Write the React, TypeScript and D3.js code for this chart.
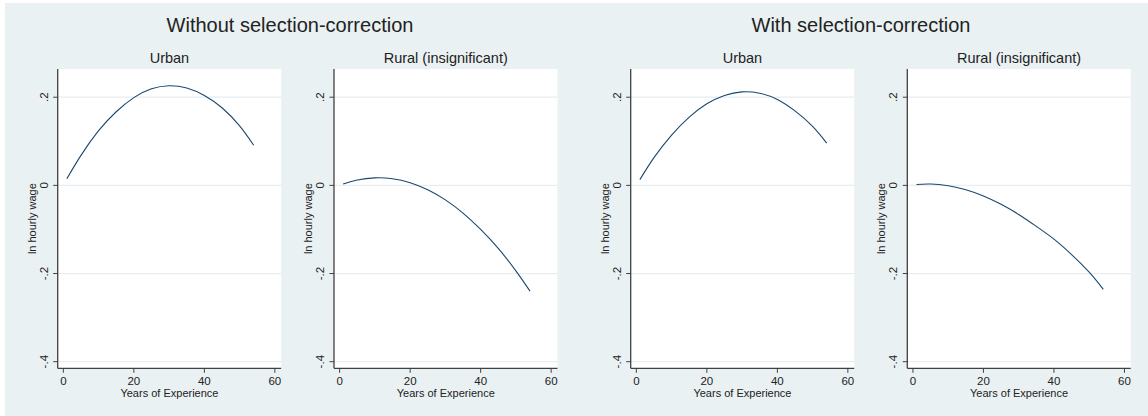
import React from "react";
import * as d3 from "d3";

const experience = [1, 5, 10, 15, 20, 25, 30, 35, 40, 45, 50, 54];
const urbanWithout = [0.015, 0.068, 0.124, 0.167, 0.199, 0.219, 0.226, 0.221, 0.204, 0.176, 0.135, 0.091];
const ruralWithout = [0.003, 0.012, 0.017, 0.015, 0.006, -0.01, -0.033, -0.063, -0.1, -0.143, -0.194, -0.24];
const urbanWith = [0.013, 0.063, 0.114, 0.155, 0.185, 0.204, 0.212, 0.209, 0.195, 0.169, 0.134, 0.096];
const ruralWith = [0.002, 0.003, -0.001, -0.01, -0.024, -0.043, -0.066, -0.093, -0.122, -0.157, -0.197, -0.236];

const yTicks = [0.2, 0, -0.2, -0.4];
const xTicks = [0, 20, 40, 60];
const groupTitles = ["Without selection-correction", "With selection-correction"];
const panelTitles = ["Urban", "Rural (insignificant)", "Urban", "Rural (insignificant)"];
const panelSeries = [urbanWithout, ruralWithout, urbanWith, ruralWith];
const yLabel = "ln hourly wage";
const xLabel = "Years of Experience";

const W = 1148;
const H = 416;
const FONT = "'Liberation Sans', Arial, Helvetica, sans-serif";
const BG = "#eaf1f3";
const LINE = "#1a476f";
const AXIS = "#404040";
const GRID = "#e6eef1";

const panelLefts = [57.7, 334, 630.7, 907.3];
const plotW = 223.5;
const plotTop = 69;
const plotBottom = 368.3;
const groupCenters = [290, 861];

const fmtY = (v: number) => {
  if (v === 0) return "0";
  const s = String(v);
  return s.replace("0.", ".");
};

function Panel({ idx }: { idx: number }) {
  const left = panelLefts[idx];
  const x = d3.scaleLinear().domain([-1.6, 61.8]).range([left, left + plotW]);
  const y = d3.scaleLinear().domain([-0.415, 0.264]).range([plotBottom, plotTop]);
  const data = experience.map((e, i) => [e, panelSeries[idx][i]] as [number, number]);
  const line = d3
    .line<[number, number]>()
    .x((d) => x(d[0]))
    .y((d) => y(d[1]))
    .curve(d3.curveNatural);
  const cx = left + plotW / 2;
  return (
    <g>
      <rect x={left} y={plotTop} width={plotW} height={plotBottom - plotTop} fill="#ffffff" />
      {yTicks.map((t) => (
        <line key={"g" + t} x1={left} x2={left + plotW} y1={y(t)} y2={y(t)} stroke={GRID} strokeWidth={1.3} />
      ))}
      <path d={line(data) || ""} fill="none" stroke={LINE} strokeWidth={1.1} />
      <line x1={left} x2={left} y1={plotTop} y2={plotBottom} stroke={AXIS} strokeWidth={1.3} />
      <line x1={left} x2={left + plotW} y1={plotBottom} y2={plotBottom} stroke={AXIS} strokeWidth={1.3} />
      {yTicks.map((t) => (
        <g key={"y" + t}>
          <line x1={left - 4.5} x2={left} y1={y(t)} y2={y(t)} stroke={AXIS} strokeWidth={1} />
          <text
            transform={`translate(${left - 10},${y(t)}) rotate(-90)`}
            textAnchor="middle"
            fontSize={11.5}
            fontFamily={FONT}
            fill="#222"
          >
            {fmtY(t)}
          </text>
        </g>
      ))}
      {xTicks.map((t) => (
        <g key={"x" + t}>
          <line x1={x(t)} x2={x(t)} y1={plotBottom} y2={plotBottom + 4.5} stroke={AXIS} strokeWidth={1} />
          <text x={x(t)} y={385} textAnchor="middle" fontSize={11.5} fontFamily={FONT} fill="#222">
            {t}
          </text>
        </g>
      ))}
      <text
        transform={`translate(${left - 22},${(plotTop + plotBottom) / 2}) rotate(-90)`}
        textAnchor="middle"
        fontSize={11}
        fontFamily={FONT}
        fill="#222"
      >
        {yLabel}
      </text>
      <text x={cx} y={397} textAnchor="middle" fontSize={11} fontFamily={FONT} fill="#222">
        {xLabel}
      </text>
      <text x={cx} y={63} textAnchor="middle" fontSize={14.5} fontFamily={FONT} fill="#222">
        {panelTitles[idx]}
      </text>
    </g>
  );
}

export default function App() {
  return (
    <svg
      width={W}
      height={H}
      style={{ position: "absolute", left: 0, top: 0, display: "block", background: "#ffffff" }}
    >
      <rect x={5} y={3} width={W - 5} height={H - 3} fill={BG} />
      {groupTitles.map((t, i) => (
        <text key={t} x={groupCenters[i]} y={32} textAnchor="middle" fontSize={20} fontFamily={FONT} fill="#222">
          {t}
        </text>
      ))}
      {[0, 1, 2, 3].map((i) => (
        <Panel key={i} idx={i} />
      ))}
    </svg>
  );
}
